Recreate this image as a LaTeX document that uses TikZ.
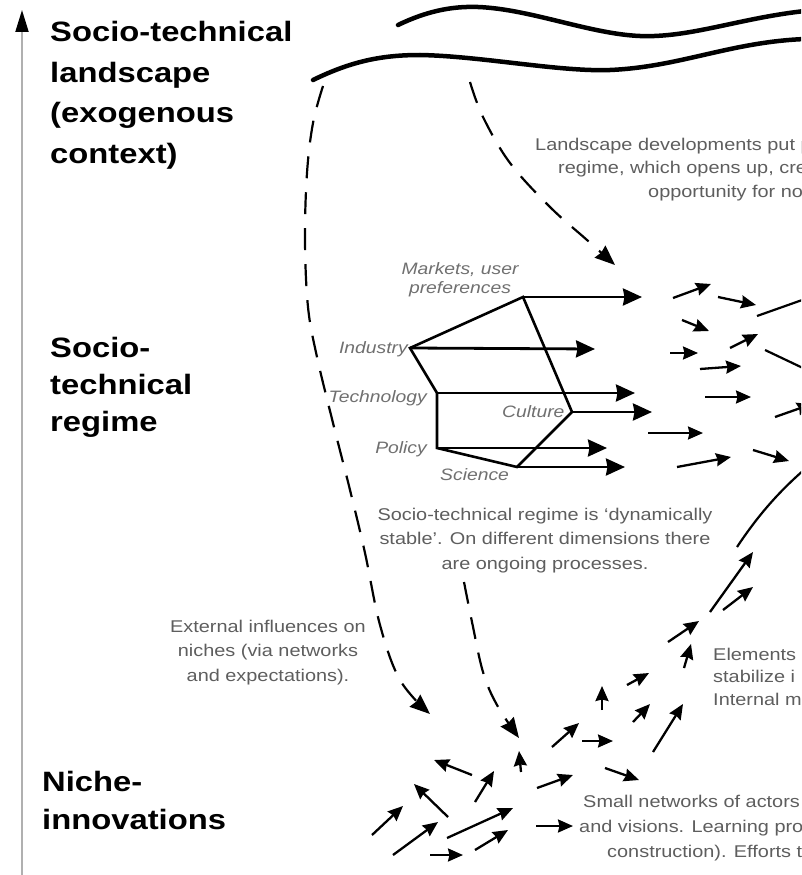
\documentclass[tikz,border=0pt]{standalone}
\usepackage{fontspec}
\setmainfont{Liberation Sans}
\usetikzlibrary{arrows.meta}
\definecolor{txtgray}{HTML}{5E5E5E}
\definecolor{labgray}{HTML}{707070}
\definecolor{axisgray}{HTML}{B0B0B0}
\begin{document}
\begin{tikzpicture}[x=1pt,y=-1pt,
  big/.style={font=\fontsize{28}{40.5}\selectfont\bfseries, align=left, inner sep=0pt, xscale=1.17, transform shape},
  lab/.style={font=\fontsize{16.5}{19}\selectfont\itshape, text=labgray, inner sep=0pt, xscale=1.17, transform shape},
  para/.style={font=\fontsize{17}{24.5}\selectfont, text=txtgray, inner sep=0pt, xscale=1.17, transform shape},
  wave/.style={line width=4.5pt, line cap=round},
  dsh/.style={line width=2.2pt, dash pattern=on 22pt off 14pt, -{Stealth[length=20pt,width=16pt,inset=1.5pt]}},
  hexline/.style={line width=2.6pt, line join=miter},
  flow/.style={line width=2.8pt, -{Stealth[length=19pt,width=17pt,inset=1.5pt]}},
  sm/.style={line width=2.3pt, -{Stealth[length=15pt,width=13pt,inset=1.5pt]}},
]
\useasboundingbox[fill=white] (0,0) rectangle (801,875);
\clip (0,0) rectangle (801,875);

% vertical axis
\coordinate (axbot) at (22,875);
\coordinate (axtop) at (22,10);
\draw[axisgray, line width=2pt, -{Triangle[length=22pt,width=13pt,color=black]}] (axbot) -- (axtop);

% level labels
\node[big, anchor=north west] (land) at (50,21.5) {Socio-technical\\landscape\\(exogenous\\context)};
\node[big, anchor=north west, font=\fontsize{28}{37}\selectfont\bfseries] (regime) at (50,337.5) {Socio-\\technical\\regime};
\node[big, anchor=north west, font=\fontsize{28}{38}\selectfont\bfseries] (niche) at (42,771.5) {Niche-\\innovations};

% landscape wavy lines
\draw[wave] (398,25) .. controls (425,12) and (450,6) .. (478,7)
  .. controls (530,9) and (590,34) .. (640,36)
  .. controls (690,38) and (740,18) .. (805,11);
\draw[wave] (313,80) .. controls (350,62) and (380,55) .. (420,55)
  .. controls (480,56) and (560,72) .. (610,70)
  .. controls (680,67) and (730,42) .. (805,39);

% landscape text (cut at the right edge, as in the reference)
\node[para, anchor=base west] (lt1) at (535,150) {Landscape developments put p};
\node[para, anchor=base west] (lt2) at (558,173.5) {regime, which opens up, cre};
\node[para, anchor=base west] (lt3) at (648,197) {opportunity for no};

% dashed influence curves
\draw[dsh] plot[smooth, tension=0.6] coordinates {(323,86) (313,123) (307,173) (305,240) (308,307) (317,357) (333,423) (350,490) (365,553) (380,625) (400,680) (430,714)};
\draw[dsh] plot[smooth, tension=0.6] coordinates {(470,82) (483,117) (510,163) (550,207) (587,240) (615,265)};
\draw[dsh] plot[smooth, tension=0.6] coordinates {(464,582) (472,622) (483,672) (497,705) (519,738)};

% regime hexagon
\coordinate (M) at (523,297);
\coordinate (I) at (410,348);
\coordinate (T) at (437,393);
\coordinate (P) at (437,448);
\coordinate (S) at (517,467);
\coordinate (C) at (572,412);
\draw[hexline] (M) -- (I) -- (T) -- (P) -- (S) -- (C) -- cycle;

\coordinate (Me) at (642,297);
\coordinate (Ie) at (595,349);
\coordinate (Te) at (635,393);
\coordinate (Ce) at (652,412);
\coordinate (Pe) at (607,448);
\coordinate (Se) at (625,467);
\draw[flow] (M) -- (Me);
\draw[flow] (I) -- (Ie);
\draw[flow] (T) -- (Te);
\draw[flow] (C) -- (Ce);
\draw[flow] (P) -- (Pe);
\draw[flow] (S) -- (Se);

\node[lab, align=center, anchor=north] (markets) at (460,262) {Markets, user\\preferences};
\node[lab, anchor=base east] (industry) at (408,353) {Industry};
\node[lab, anchor=base east] (technology) at (427,402) {Technology};
\node[lab, anchor=base east] (policy) at (427,453) {Policy};
\node[lab, anchor=base west] (science) at (440,480) {Science};
\node[lab, anchor=base west] (culture) at (502,417) {Culture};

% regime text
\node[para, align=center, anchor=north] (rtext) at (545,507.5) {Socio-technical regime is `dynamically\\stable'. On different dimensions there\\are ongoing processes.};

% external influences text
\node[para, align=center, anchor=north] (ext) at (268,619.5) {External influences on\\niches (via networks\\and expectations).};

% elements text (cut)
\node[para, align=left, anchor=north west, font=\fontsize{17}{22.5}\selectfont] (elem) at (713,647.5) {Elements\\stabilize i\\Internal m};

% small networks text (cut)
\node[para, anchor=base west] (sn1) at (583,807) {Small networks of actors};
\node[para, anchor=base west] (sn2) at (579,832) {and visions. Learning pro};
\node[para, anchor=base west] (sn3) at (607,857) {construction). Efforts t};

% regime-level small arrows
\draw[sm] (673,298) -- (711,284);
\draw[sm] (718,297) -- (756,305);
\draw[sm] (682,320) -- (709,331);
\draw[sm] (730,348) -- (758,334);
\draw[sm] (670,353) -- (698,353);
\draw[sm] (700,369) -- (741,366);
\draw[sm] (705,397) -- (751,397);
\draw[sm] (648,433) -- (703,433);
\draw[sm] (677,467) -- (731,457);
\draw[sm] (753,450) -- (789,461);
\draw[sm] (775,417) -- (812,404);
\draw[line width=2.2pt] (757,316) -- (805,299);
\draw[line width=2.2pt] (765,350) -- (805,369);
\draw[line width=2.2pt] (737,547) .. controls (755,520) and (775,495) .. (805,469);

% niche-to-regime arrows
\draw[sm] (710,612) -- (753,552);
\draw[sm] (723,610) -- (753,587);
\draw[sm] (668,642) -- (699,621);
\draw[sm] (684,668) -- (691,644);
\draw[sm] (627,685) -- (649,673);
\draw[sm] (602,710) -- (602,686);
\draw[sm] (633,722) -- (650,704);
\draw[sm] (653,752) -- (683,704);
\draw[sm] (552,747) -- (579,723);
\draw[sm] (582,741) -- (613,741);

% niche-level arrows
\draw[sm] (605,768) -- (639,780);
\draw[sm] (537,788) -- (573,775);
\draw[sm] (521,772) -- (519,751);
\draw[sm] (472,775) -- (434,760);
\draw[sm] (475,802) -- (494,771);
\draw[sm] (448,817) -- (414,784);
\draw[sm] (372,835) -- (403,806);
\draw[sm] (393,855) -- (438,822);
\draw[sm] (447,838) -- (513,808);
\draw[sm] (475,850) -- (508,830);
\draw[sm] (430,855) -- (463,855);
\draw[sm] (536,826) -- (573,826);
\end{tikzpicture}
\end{document}
